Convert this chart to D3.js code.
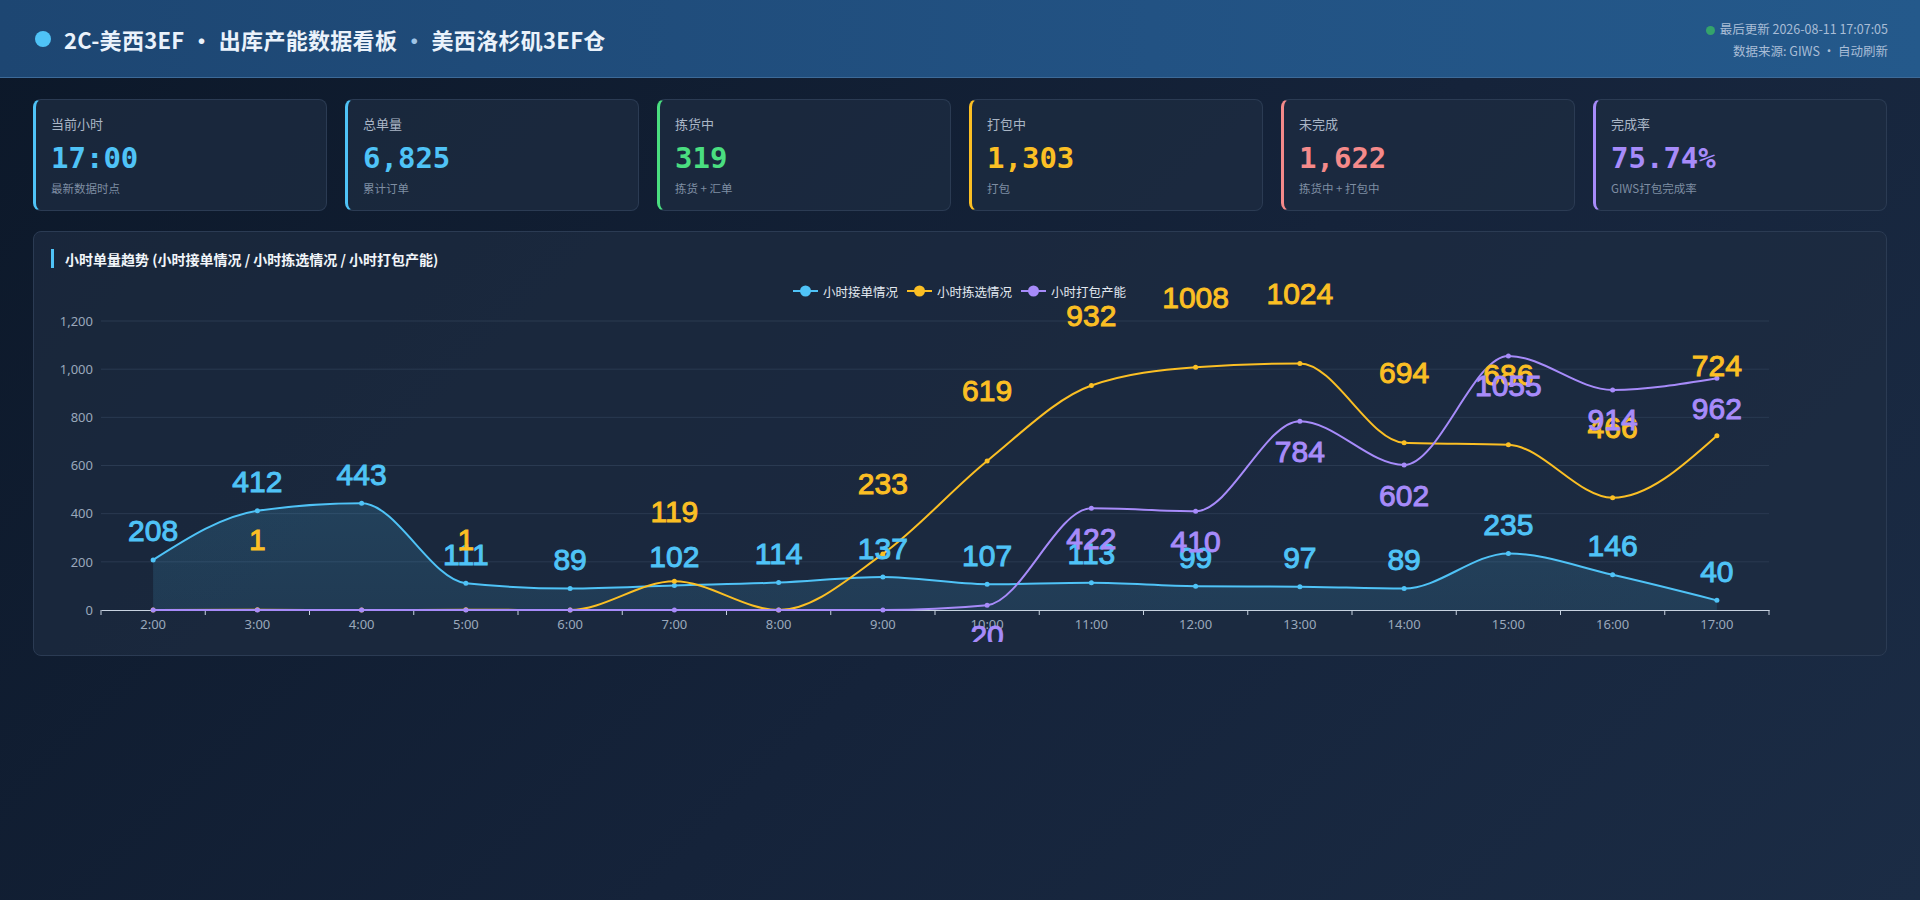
<!DOCTYPE html>
<html>
<head>
<meta charset="utf-8">
<script src="https://cdn.jsdelivr.net/npm/d3@7"></script>
<style>
  html, body { margin: 0; padding: 0; }
  body {
    width: 1920px; height: 900px; overflow: hidden;
    background: linear-gradient(135deg, #0c1829 0%, #15233a 55%, #1b2c45 100%);
    font-family: "Noto Sans CJK SC", "Noto Sans", sans-serif;
    color: #e2e8f0;
  }
  .header {
    height: 78px; box-sizing: border-box;
    background: linear-gradient(90deg, #1d4672 0%, #225283 60%, #24598b 100%);
    border-bottom: 1px solid #3d6a98;
    position: relative;
  }
  .title {
    position: absolute; left: 35px; top: 0; height: 78px;
    display: flex; align-items: center;
    font-size: 22px; font-weight: 700; color: #eaf2fb; letter-spacing: 0.3px;
  }
  .title .dot {
    width: 16px; height: 16px; border-radius: 50%; background: #4fc3f7;
    margin-right: 13px;
  }
  .title .sep { color: #9fc4e6; margin: 0 6px; }
  .meta {
    position: absolute; right: 32px; top: 18px; text-align: right;
    font-size: 12.5px; color: #a9bdd6; line-height: 22px;
  }
  .meta .live {
    display: inline-block; width: 9px; height: 9px; border-radius: 50%;
    background: #34a36b; margin-right: 5px; vertical-align: -0.5px;
  }
  .cards {
    position: absolute; left: 33px; top: 99px; width: 1854px;
    display: grid; grid-template-columns: repeat(6, 1fr); gap: 18px;
  }
  .card {
    height: 112px; box-sizing: border-box;
    background: rgba(30, 44, 66, 0.75);
    border: 1px solid #2b3b53; border-left: 3px solid #4fc3f7;
    border-radius: 8px; padding: 15px 15px;
  }
  .card .lab { font-size: 13px; line-height: 18px; color: #aab6c6; }
  .card .val {
    font-family: "DejaVu Sans Mono", monospace; font-weight: 700;
    font-size: 29px; line-height: 34px; margin-top: 8px;
  }
  .card .sub { font-size: 11.5px; line-height: 16px; margin-top: 5px; color: #7f8ea3; }
  .panel {
    position: absolute; left: 33px; top: 231px; width: 1854px; height: 425px;
    box-sizing: border-box;
    background: rgba(30, 44, 66, 0.7);
    border: 1px solid #2b3b53; border-radius: 8px;
  }
  .panel svg { position: absolute; left: -1px; top: -1px; overflow: hidden; }
</style>
</head>
<body>
<div class="header">
  <div class="title"><span class="dot"></span>2C-美西3EF<span class="sep" style="color:#eaf2fb">·</span>出库产能数据看板<span class="sep">·</span>美西洛杉矶3EF仓</div>
  <div class="meta">
    <div><span class="live"></span>最后更新 2026-08-11 17:07:05</div>
    <div>数据来源: GIWS · 自动刷新</div>
  </div>
</div>
<div class="cards" id="cards"></div>
<div class="panel" id="panel"></div>

<script>
// summary cards
var cardLabels = ['当前小时', '总单量', '拣货中', '打包中', '未完成', '完成率'];
var cardValues = ['17:00', '6,825', '319', '1,303', '1,622', '75.74%'];
var cardSubs = ['最新数据时点', '累计订单', '拣货 + 汇单', '打包', '拣货中 + 打包中', 'GIWS打包完成率'];
var cardColors = ['#4fc3f7', '#4fc3f7', '#4ade80', '#fbbf24', '#f58a8a', '#a78bfa'];

// hourly trend
var hours = ['2:00','3:00','4:00','5:00','6:00','7:00','8:00','9:00','10:00','11:00','12:00','13:00','14:00','15:00','16:00','17:00'];
var ordersIn = [208, 412, 443, 111, 89, 102, 114, 137, 107, 113, 99, 97, 89, 235, 146, 40];
var picked   = [0, 1, 0, 1, 0, 119, 0, 233, 619, 932, 1008, 1024, 694, 686, 466, 724];
var packed   = [0, 0, 0, 0, 0, 0, 0, 0, 20, 422, 410, 784, 602, 1055, 914, 962];
var yTicks = [0, 200, 400, 600, 800, 1000, 1200];

var seriesNames = ['小时接单情况', '小时拣选情况', '小时打包产能'];
var seriesColors = ['#4fc3f7', '#fbbf24', '#a78bfa'];

var cards = d3.select('#cards').selectAll('.card').data(cardLabels).enter()
  .append('div').attr('class', 'card')
  .style('border-left-color', function (d, i) { return cardColors[i]; });
cards.append('div').attr('class', 'lab').text(function (d) { return d; });
cards.append('div').attr('class', 'val')
  .style('color', function (d, i) { return cardColors[i]; })
  .text(function (d, i) { return cardValues[i]; });
cards.append('div').attr('class', 'sub').text(function (d, i) { return cardSubs[i]; });

// the chart canvas stops a little above the panel bottom (cuts the low label)
var W = 1856, H = 427, canvasH = 411;
var svg = d3.select('#panel').append('svg').attr('width', W).attr('height', canvasH);

// panel title
svg.append('rect').attr('x', 18).attr('y', 18).attr('width', 3).attr('height', 19).attr('fill', '#4fc3f7');
svg.append('text').attr('x', 32).attr('y', 28).attr('dominant-baseline', 'central')
  .attr('fill', '#f1f5f9').attr('font-size', 14).attr('font-weight', 700)
  .text('小时单量趋势 (小时接单情况 / 小时拣选情况 / 小时打包产能)');

var margin = { left: 68, right: 120, top: 90, bottom: 48 };
var x = d3.scaleBand().domain(hours).range([margin.left, W - margin.right]);
var y = d3.scaleLinear().domain([0, 1200]).range([H - margin.bottom, margin.top]);
var cx = function (d, i) { return x(hours[i]) + x.bandwidth() / 2; };

// legend
var legend = svg.append('g').attr('transform', 'translate(' + (928 - 168) + ',60)');
var item = legend.selectAll('g').data(seriesNames).enter().append('g')
  .attr('transform', function (d, i) { return 'translate(' + (i * 114) + ',0)'; });
item.append('line').attr('x1', 0).attr('x2', 25).attr('y1', 0).attr('y2', 0)
  .attr('stroke', function (d, i) { return seriesColors[i]; }).attr('stroke-width', 2);
item.append('circle').attr('cx', 12.5).attr('cy', 0).attr('r', 5.5)
  .attr('fill', function (d, i) { return seriesColors[i]; });
item.append('text').attr('x', 30).attr('y', 0).attr('dominant-baseline', 'central')
  .attr('fill', '#e2e8f0').attr('font-size', 12.5).text(function (d) { return d; });

// grid
svg.append('g').selectAll('line').data(yTicks.slice(1)).enter().append('line')
  .attr('x1', margin.left).attr('x2', W - margin.right)
  .attr('y1', function (d) { return y(d); }).attr('y2', function (d) { return y(d); })
  .attr('stroke', '#2a3a51').attr('stroke-width', 1);

// y axis
var yAxis = svg.append('g').attr('transform', 'translate(' + margin.left + ',0)')
  .call(d3.axisLeft(y).tickValues(yTicks).tickFormat(d3.format(',')).tickSize(0).tickPadding(8));
yAxis.select('.domain').remove();
yAxis.selectAll('text').attr('fill', '#9aa8bb').attr('font-size', 13)
  .attr('font-family', '"Noto Sans", sans-serif');

// x axis
var xAxis = svg.append('g').attr('transform', 'translate(0,' + y(0) + ')')
  .call(d3.axisBottom(x).tickSize(0).tickPadding(10));
xAxis.select('.domain').attr('stroke', '#c7d2e0');
xAxis.selectAll('text').attr('fill', '#9aa8bb').attr('font-size', 13)
  .attr('font-family', '"Noto Sans", sans-serif');
var bounds = hours.map(function (h) { return x(h); }).concat([x.range()[1]]);
xAxis.append('g').selectAll('line').data(bounds).enter().append('line')
  .attr('x1', function (d) { return d; }).attr('x2', function (d) { return d; })
  .attr('y1', 0).attr('y2', 5).attr('stroke', '#c7d2e0');

// area under orders line
var defs = svg.append('defs');
var grad = defs.append('linearGradient').attr('id', 'areaGrad').attr('x1', 0).attr('y1', 0).attr('x2', 0).attr('y2', 1);
grad.append('stop').attr('offset', '0%').attr('stop-color', '#4fc3f7').attr('stop-opacity', 0.16);
grad.append('stop').attr('offset', '100%').attr('stop-color', '#4fc3f7').attr('stop-opacity', 0.12);

var area = d3.area().x(cx).y0(y(0)).y1(function (d) { return y(d); }).curve(d3.curveMonotoneX);
svg.append('path').datum(ordersIn).attr('d', area).attr('fill', 'url(#areaGrad)');

var line = d3.line().x(cx).y(function (d) { return y(d); }).curve(d3.curveMonotoneX);
var allSeries = [ordersIn, picked, packed];
// label offset from the point for each series (top / higher top / bottom)
var labelDy = [-29, -70, 30];

allSeries.forEach(function (vals, s) {
  svg.append('path').datum(vals).attr('d', line).attr('fill', 'none')
    .attr('stroke', seriesColors[s]).attr('stroke-width', 2);
  svg.append('g').selectAll('circle').data(vals).enter().append('circle')
    .attr('cx', cx).attr('cy', function (d) { return y(d); }).attr('r', 2.5)
    .attr('fill', seriesColors[s]);
});

// value labels, zeros hidden
allSeries.forEach(function (vals, s) {
  var pts = vals.map(function (v, i) { return { v: v, i: i }; })
    .filter(function (p) { return p.v > 0; });
  svg.append('g').selectAll('text').data(pts).enter().append('text')
    .attr('x', function (p) { return cx(p.v, p.i); })
    .attr('y', function (p) { return y(p.v) + labelDy[s]; })
    .attr('text-anchor', 'middle').attr('dominant-baseline', 'central')
    .attr('font-family', '"Liberation Sans", Arial, sans-serif')
    .attr('font-size', 30)
    .attr('fill', seriesColors[s])
    .attr('stroke', seriesColors[s]).attr('stroke-width', 1)
    .text(function (p) { return p.v; });
});
</script>
</body>
</html>
